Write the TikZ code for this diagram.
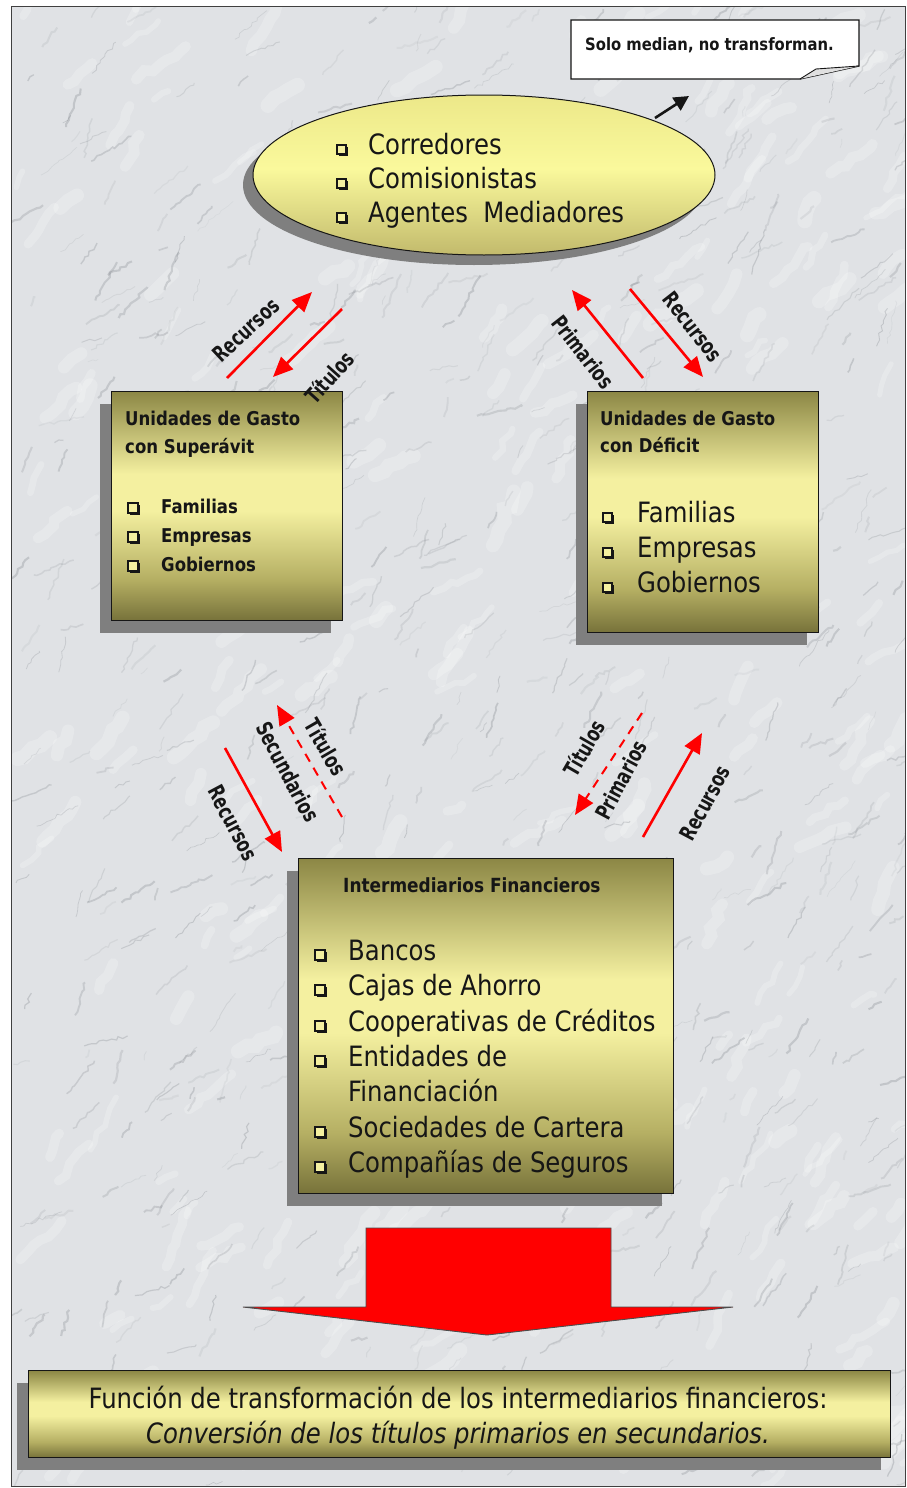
\documentclass[tikz,border=0pt]{standalone}
\usepackage{fontspec}
\setmainfont[FakeStretch=0.87]{DejaVu Sans}
\newfontfamily\lblfont[FakeStretch=0.72]{DejaVu Sans}
\usetikzlibrary{shapes.geometric,arrows.meta,shadows,decorations.pathmorphing}

\definecolor{olDark}{HTML}{77723A}
\definecolor{olTop}{HTML}{8C8745}
\definecolor{olLight}{HTML}{F4F0A0}
\definecolor{olMid}{HTML}{B5AF63}
\definecolor{elTop}{HTML}{ECE889}
\definecolor{elMid}{HTML}{FAF99C}
\definecolor{elBot}{HTML}{C2BA6C}
\definecolor{shadowgray}{HTML}{7F7F7F}
\definecolor{marble}{HTML}{E0E2E5}
\definecolor{vein}{HTML}{5E636B}
\definecolor{ink}{HTML}{161616}
\definecolor{arrowred}{HTML}{FF0000}

% olive band used by the rectangular panels: dark at the edges, bright just above the middle
\pgfdeclareverticalshading{olivebar}{100bp}{color(0bp)=(olDark); color(25bp)=(olDark); color(34bp)=(olMid); color(49bp)=(olLight); color(57bp)=(olLight); color(75bp)=(olTop); color(100bp)=(olTop)}
% soft yellow for the ellipse
\pgfdeclareverticalshading{ellshade}{100bp}{color(0bp)=(elBot); color(25bp)=(elBot); color(52bp)=(elMid); color(75bp)=(elTop); color(100bp)=(elTop)}

\tikzset{
  panel/.style={draw=ink, line width=1.2pt, shading=olivebar, anchor=north west, inner sep=0pt,
    drop shadow={shadow xshift=-12pt, shadow yshift=-12pt, fill=shadowgray, opacity=1}},
  item/.style={anchor=base west, inner sep=0pt, text=ink, font=\fontsize{28}{28}\selectfont},
  smallitem/.style={anchor=base west, inner sep=0pt, text=ink, font=\bfseries\fontsize{19}{19}\selectfont},
  heading/.style={anchor=base west, inner sep=0pt, text=ink, font=\bfseries\fontsize{19}{19}\selectfont},
  bulbox/.style={draw=ink, line width=1.1pt, minimum size=#1, inner sep=0pt, fill=olLight,
    drop shadow={shadow xshift=1.6pt, shadow yshift=-1.6pt, fill=ink, opacity=1}},
  bulbox/.default=9pt,
  lbl/.style={inner sep=0pt, text=ink, font=\lblfont\bfseries\fontsize{22}{22}\selectfont},
  redarr/.style={draw=arrowred, line width=2.6pt, -{Triangle[length=20pt,width=17pt]}},
  dashred/.style={draw=arrowred, line width=2pt, dash pattern=on 9pt off 7pt, -{Triangle[length=20pt,width=17pt]}},
}

\begin{document}
\begin{tikzpicture}[x=1pt,y=-1pt]
\useasboundingbox (0,0) rectangle (907,1488);

% ---------- marble backdrop ----------
\fill[white] (0,0) rectangle (907,1488);
\fill[marble] (11,7) rectangle (905,1486);
\pgfmathsetseed{42}
\begin{scope}
  \clip (11,7) rectangle (905,1486);
  % pale patches
  \foreach \i in {1,...,300}{
    \pgfmathsetmacro{\px}{11+rnd*894}
    \pgfmathsetmacro{\py}{7+rnd*1479}
    \pgfmathsetmacro{\ln}{15+rnd*45}
    \pgfmathsetmacro{\an}{-20-rnd*50}
    \pgfmathsetmacro{\lw}{5+rnd*10}
    \draw[white, opacity=0.22, line width=\lw pt, line cap=round, decorate,
      decoration={random steps, segment length=9pt, amplitude=3pt}] (\px,\py) -- ++(\an:\ln);
  }
  % grey veins
  \foreach \i in {1,...,750}{
    \pgfmathsetmacro{\px}{11+rnd*894}
    \pgfmathsetmacro{\py}{7+rnd*1479}
    \pgfmathsetmacro{\ln}{8+rnd*40}
    \pgfmathsetmacro{\an}{-10-rnd*70}
    \pgfmathsetmacro{\op}{0.06+rnd*0.17}
    \pgfmathsetmacro{\lw}{0.6+rnd*1.6}
    \draw[vein, opacity=\op, line width=\lw pt, decorate,
      decoration={random steps, segment length=4pt, amplitude=1.6pt}] (\px,\py) -- ++(\an:\ln);
  }
\end{scope}
\draw[black!75, line width=1pt] (11,7) rectangle (905,1486);

% ---------- callout ----------
\draw[fill=white, draw=ink, line width=1.3pt] (571,20) -- (859,20) -- (859,66) -- (800,79) -- (571,79) -- cycle;
\draw[fill=black!12, draw=ink, line width=0.9pt] (800,79) -- (816,69) -- (859,66);
\node[anchor=base west, inner sep=0pt, text=ink, font=\bfseries\fontsize{17}{17}\selectfont] (note) at (585,51) {Solo median, no transforman.};

% ---------- ellipse of mediators ----------
\node[ellipse, draw=ink, line width=1pt, shading=ellshade, minimum width=462pt, minimum height=160pt,
  drop shadow={shadow xshift=-10pt, shadow yshift=-10pt, fill=shadowgray, opacity=1}] (med) at (484,175) {};
\foreach \t [count=\k] in {Corredores, Comisionistas, Agentes~~Mediadores}{
  \pgfmathsetmacro{\yb}{154+34*(\k-1)}
  \node[bulbox] (mb\k) at (341.5,\yb-4.5) {};
  \node[item] (mt\k) at (368,\yb) {\t};
}
\coordinate (pa) at (655,118);
\coordinate (pb) at (689,96);
\draw[ink, line width=2.6pt, -{Triangle[length=15pt,width=15pt]}] (pa) -- (pb);

% ---------- surplus units ----------
\node[panel, minimum width=231pt, minimum height=229pt] (sup) at (111,391) {};
\node[heading] (supA) at (125,425) {Unidades de Gasto};
\node[heading] (supB) at (125,453) {con Superávit};
\foreach \t [count=\k] in {Familias, Empresas, Gobiernos}{
  \pgfmathsetmacro{\yb}{513+29*(\k-1)}
  \node[bulbox=10pt] (sb\k) at (133,\yb-5) {};
  \node[smallitem] (st\k) at (161,\yb) {\t};
}

% ---------- deficit units ----------
\node[panel, minimum width=231pt, minimum height=241pt] (def) at (587,391) {};
\node[heading] (defA) at (600,425) {Unidades de Gasto};
\node[heading] (defB) at (600,452) {con Déficit};
\foreach \t [count=\k] in {Familias, Empresas, Gobiernos}{
  \pgfmathsetmacro{\yb}{522+35*(\k-1)}
  \node[bulbox] (db\k) at (607.5,\yb-4.5) {};
  \node[item] (dt\k) at (637,\yb) {\t};
}

% ---------- financial intermediaries ----------
\node[panel, minimum width=375pt, minimum height=335pt] (fin) at (298,858) {};
\node[heading, font=\bfseries\fontsize{19.5}{19.5}\selectfont] (finA) at (343,892) {Intermediarios Financieros};
\foreach \yb/\t/\b [count=\k] in {960/Bancos/1, 995/Cajas de Ahorro/1, 1031/Cooperativas de Créditos/1,
    1066/Entidades de/1, 1101/Financiación/0, 1137/Sociedades de Cartera/1, 1172/Compañías de Seguros/1}{
  \ifnum\b=1 \node[bulbox=10pt] (fb\k) at (320,\yb-5) {}; \fi
  \node[item] (ft\k) at (348,\yb) {\t};
}

% ---------- flows between the agents ----------
\coordinate (a1s) at (227,378); \coordinate (a1e) at (312,292);
\coordinate (a2s) at (342,309); \coordinate (a2e) at (273,377);
\draw[redarr] (a1s) -- (a1e);
\draw[redarr] (a2s) -- (a2e);
\node[lbl, rotate=43] (l1) at (246,330) {Recursos};
\node[lbl, rotate=48] (l2) at (329,377) {Títulos};

\coordinate (a3s) at (643,378); \coordinate (a3e) at (572,290);
\coordinate (a4s) at (630,289); \coordinate (a4e) at (703,377);
\draw[redarr] (a3s) -- (a3e);
\draw[redarr] (a4s) -- (a4e);
\node[lbl, rotate=-52] (l3) at (583,352) {Primarios};
\node[lbl, rotate=-52] (l4) at (693,327) {Recursos};

\coordinate (a5s) at (342,817); \coordinate (a5e) at (277,705);
\coordinate (a6s) at (225,748); \coordinate (a6e) at (282,852);
\draw[dashred] (a5s) -- (a5e);
\draw[redarr] (a6s) -- (a6e);
\node[lbl, rotate=-60] (l5) at (326,747) {Títulos};
\node[lbl, rotate=-62] (l6) at (288,772) {Secundarios};
\node[lbl, rotate=-62] (l7) at (233,823) {Recursos};

\coordinate (a7s) at (642,713); \coordinate (a7e) at (575,815);
\coordinate (a8s) at (643,837); \coordinate (a8e) at (702,733);
\draw[dashred] (a7s) -- (a7e);
\draw[redarr] (a8s) -- (a8e);
\node[lbl, rotate=60] (l8) at (584,748) {Títulos};
\node[lbl, rotate=62] (l9) at (621,780) {Primarios};
\node[lbl, rotate=62] (l10) at (705,803) {Recursos};

% ---------- big block arrow ----------
\filldraw[fill=arrowred, draw=black!70, line width=0.9pt]
  (366,1228) -- (611,1228) -- (611,1307) -- (733,1307) -- (487,1335) -- (243,1307) -- (366,1307) -- cycle;

% ---------- conclusion banner ----------
\node[panel, drop shadow={shadow xshift=-10pt, shadow yshift=-12pt, fill=shadowgray, opacity=1},
  minimum width=862pt, minimum height=87pt] (ban) at (28,1370) {};
\node[anchor=base, inner sep=0pt, text=ink, font=\fontsize{28}{28}\selectfont] (banA) at (458,1408)
  {Función de transformación de los intermediarios financieros:};
\node[anchor=base, inner sep=0pt, text=ink, font=\itshape\fontsize{28}{28}\selectfont] (banB) at (458,1443)
  {Conversión de los títulos primarios en secundarios.};
\end{tikzpicture}
\end{document}
